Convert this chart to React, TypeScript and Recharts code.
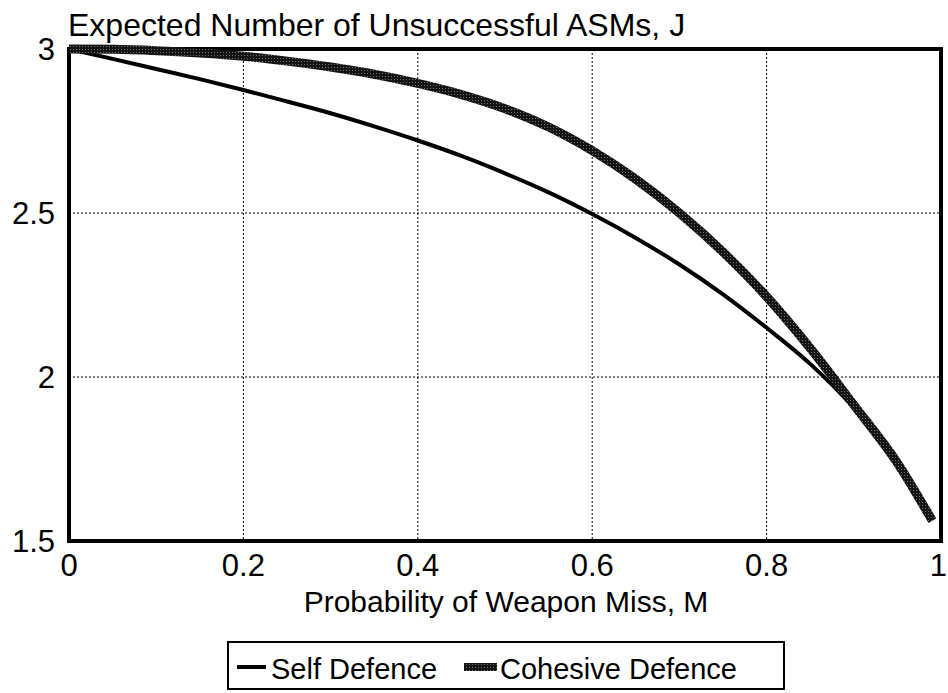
import React from "react";
import { LineChart, Line, XAxis, YAxis, CartesianGrid, ReferenceArea } from "recharts";

const missProb = [0, 0.05, 0.1, 0.15, 0.2, 0.25, 0.3, 0.35, 0.4, 0.45, 0.5, 0.55, 0.6, 0.65, 0.7, 0.75, 0.8, 0.85, 0.9, 0.95, 0.99];
const selfDefence = [3.0, 2.97, 2.939, 2.908, 2.875, 2.84, 2.804, 2.764, 2.721, 2.674, 2.621, 2.563, 2.497, 2.424, 2.343, 2.252, 2.15, 2.04, 1.906, 1.742, 1.565];
const cohesiveDefence = [3.0, 2.999, 2.995, 2.988, 2.978, 2.963, 2.945, 2.923, 2.895, 2.861, 2.818, 2.762, 2.69, 2.603, 2.5, 2.381, 2.245, 2.088, 1.915, 1.738, 1.562];

const xTicks = [0, 0.2, 0.4, 0.6, 0.8, 1];
const yTicks = [1.5, 2, 2.5, 3];
const xTickLabels = ["0", "0.2", "0.4", "0.6", "0.8", "1"];
const yTickLabels = ["1.5", "2", "2.5", "3"];

const seriesNames = ["Self Defence", "Cohesive Defence"];
const titleText = "Expected Number of Unsuccessful ASMs, J";
const xLabelText = "Probability of Weapon Miss, M";

const data = missProb.map((m, i) => ({ m, self: selfDefence[i], coh: cohesiveDefence[i] }));

const FONT = "'Liberation Sans', Arial, Helvetica, sans-serif";

const XTick = (props: any) => {
  const { x, y, payload } = props;
  const v = payload.value;
  const idx = xTicks.indexOf(v);
  const isLast = idx === xTicks.length - 1;
  return (
    <text
      x={isLast ? x + 6 : x}
      y={y}
      dy={22}
      textAnchor={isLast ? "end" : "middle"}
      fontSize={31}
      fontFamily={FONT}
      fill="#000"
    >
      {xTickLabels[idx] ?? String(v)}
    </text>
  );
};

export default function App() {
  return (
    <div style={{ position: "absolute", left: 0, top: 0, width: 948, height: 693, background: "#fff" }}>
      <LineChart width={948} height={693} data={data} margin={{ top: 49, right: 7, bottom: 92, left: 0 }}>
        <defs>
          <pattern id="stipple" patternUnits="userSpaceOnUse" width="3" height="3">
            <rect x="0" y="0" width="3" height="3" fill="#141414" />
            <rect x="1" y="1" width="1" height="1" fill="#707070" />
          </pattern>
        </defs>
        <CartesianGrid
          stroke="#000"
          strokeDasharray="2 2"
          strokeWidth={1}
          verticalValues={[0.2, 0.4, 0.6, 0.8]}
          horizontalValues={[2, 2.5]}
        />
        <XAxis
          dataKey="m"
          type="number"
          domain={[0, 1]}
          ticks={xTicks}
          height={60}
          tickSize={0}
          tickMargin={13}
          axisLine={false}
          tickLine={false}
          tick={<XTick />}
          interval={0}
        />
        <YAxis
          type="number"
          domain={[1.5, 3]}
          ticks={yTicks}
          tickFormatter={(v: number) => yTickLabels[yTicks.indexOf(v)] ?? String(v)}
          width={69}
          tickSize={0}
          tickMargin={14}
          axisLine={false}
          tickLine={false}
          tick={{ fill: "#000", fontSize: 31, fontFamily: FONT }}
          interval={0}
        />
        <Line
          dataKey="self"
          name={seriesNames[0]}
          type="monotone"
          stroke="#000"
          strokeWidth={4}
          dot={false}
          isAnimationActive={false}
        />
        <Line
          dataKey="coh"
          name={seriesNames[1]}
          type="monotone"
          stroke="url(#stipple)"
          strokeWidth={9}
          dot={false}
          isAnimationActive={false}
        />
        <ReferenceArea x1={0} x2={1} y1={1.5} y2={3} fill="none" stroke="#000" strokeWidth={4} ifOverflow="visible" />
      </LineChart>
      <svg width={948} height={693} style={{ position: "absolute", left: 0, top: 0, pointerEvents: "none" }}>
        <defs>
          <pattern id="stippleLegend" patternUnits="userSpaceOnUse" width="3" height="3">
            <rect x="0" y="0" width="3" height="3" fill="#141414" />
            <rect x="1" y="1" width="1" height="1" fill="#707070" />
          </pattern>
        </defs>
        <text x={68} y={36} fontSize={32} fontFamily={FONT} fill="#000">{titleText}</text>
        <text x={506} y={612} fontSize={30} fontFamily={FONT} fill="#000" textAnchor="middle">{xLabelText}</text>
        <rect x={228} y={642} width={556} height={47} fill="#fff" stroke="#000" strokeWidth={2} />
        <line x1={237} y1={667} x2={266} y2={667} stroke="#000" strokeWidth={4} />
        <text x={271} y={679} fontSize={29} fontFamily={FONT} fill="#000">{seriesNames[0]}</text>
        <rect x={464} y={663} width={33} height={8} fill="url(#stippleLegend)" />
        <text x={500} y={679} fontSize={29} fontFamily={FONT} fill="#000">{seriesNames[1]}</text>
      </svg>
    </div>
  );
}
